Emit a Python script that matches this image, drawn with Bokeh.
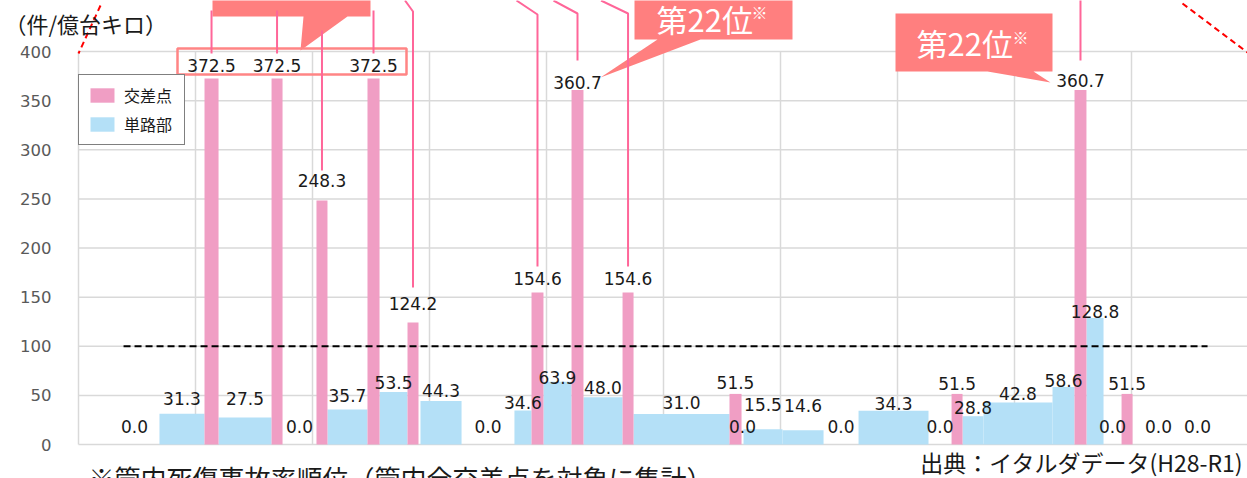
from bokeh.plotting import figure
from bokeh.models import Range1d, FixedTicker, Legend, LegendItem, Label, ColumnDataSource
from bokeh.core.properties import value
from bokeh.embed import file_html
from bokeh.resources import INLINE

# ---------------- data ----------------
# position along the route (1 unit = 1 vertical grid interval)
blue_start = [0.265, 0.692, 1.197, 1.744, 2.128, 2.573, 2.923, 3.274, 3.726, 3.974, 4.316, 4.744,
              5.667, 5.684, 6.017, 6.368, 6.667, 7.265, 7.556, 7.735, 8.325, 8.615, 8.761, 9.009, 9.453]
blue_end = [0.692, 1.077, 1.650, 2.034, 2.470, 2.812, 3.274, 3.726, 3.872, 4.214, 4.650, 5.564,
            5.684, 6.017, 6.368, 6.667, 7.265, 7.462, 7.735, 8.325, 8.513, 8.761, 8.915, 9.453, 9.675]
blue_value = [0.0, 31.3, 27.5, 0.0, 35.7, 53.5, 44.3, 0.0, 34.6, 63.9, 48.0, 31.0,
              0.0, 15.5, 14.6, 0.0, 34.3, 0.0, 28.8, 42.8, 58.6, 128.8, 0.0, 0.0, 0.0]

pink_start = [1.077, 1.650, 2.034, 2.470, 2.812, 3.872, 4.214, 4.650, 5.564, 7.462, 8.513, 8.915]
pink_end = [1.197, 1.744, 2.128, 2.573, 2.906, 3.974, 4.316, 4.744, 5.667, 7.556, 8.615, 9.009]
pink_value = [372.5, 372.5, 248.3, 372.5, 124.2, 154.6, 360.7, 154.6, 51.5, 51.5, 360.7, 51.5]

avg_x = [0.385, 9.650]
avg_y = [100, 100]

y_ticks = [0, 50, 100, 150, 200, 250, 300, 350, 400]
grid_x = [0, 1, 2, 3, 4, 5, 6, 7, 8, 9]

legend_labels = ["交差点", "単路部"]
y_title = "（件/億台キロ）"
rank_text = "第22位"
source_text = "出典：イタルダデータ(H28-R1)"
note_text = "※管内死傷事故率順位（管内全交差点を対象に集計）"

# ---------------- layout / style ----------------
PINK = "#F09EC4"
BLUE = "#B4E0F7"
SALMON = "#FF7F7F"
LEADER = "#FF6699"
GRID = "#D9D9D9"
JP = "Noto Sans CJK JP"
NUM = "DejaVu Sans"
PXY = 0.9825           # screen px per data unit (y)
PXX = 117.0            # screen px per data unit (x)

# label nudges (px above bar top)
blue_dy = [18, 15, 19, 18, 14, 9, 10, 18, 8, 4, 10, 12, 18, 25, 25, 18, 7, 18, 9, 9, 6, 6, 18, 18, 18]
pink_dy = [13, 13, 20, 13, 19, 14, 8, 14, 11, 10, 10, 10]

W, H = 1247, 478
LEFT, BOTTOM = 78, 444


def X(px):
    return (px - LEFT) / PXX


def Y(py):
    return (BOTTOM - py) / PXY


p = figure(width=W, height=H,
           x_range=Range1d(X(0), X(W)), y_range=Range1d(Y(H), Y(0)),
           output_backend="svg", toolbar_location=None,
           min_border_left=0, min_border_right=0, min_border_top=0, min_border_bottom=0)
p.outline_line_color = None
p.background_fill_color = "white"
p.border_fill_color = "white"

p.xaxis.visible = False
p.xgrid.visible = False
p.ygrid.visible = False

p.yaxis.fixed_location = 0
p.yaxis.ticker = FixedTicker(ticks=y_ticks)
p.yaxis.axis_line_color = None
p.yaxis.major_tick_line_color = None
p.yaxis.minor_tick_line_color = None
p.yaxis.major_label_standoff = 21
p.yaxis.major_label_text_font = NUM
p.yaxis.major_label_text_font_size = "16.5px"
p.yaxis.major_label_text_color = "#595959"

# grid lines (plot area only)
p.segment(x0=grid_x, y0=[0] * len(grid_x), x1=grid_x, y1=[400] * len(grid_x),
          line_color=GRID, line_width=1.5)
p.segment(x0=[0] * len(y_ticks), y0=y_ticks, x1=[X(W)] * len(y_ticks), y1=y_ticks,
          line_color=GRID, line_width=1.5)

blue_src = ColumnDataSource(dict(left=blue_start, right=blue_end, top=blue_value))
pink_src = ColumnDataSource(dict(left=pink_start, right=pink_end, top=pink_value))
rb = p.quad(left="left", right="right", bottom=0, top="top", source=blue_src,
            fill_color=BLUE, line_color=None)
rp = p.quad(left="left", right="right", bottom=0, top="top", source=pink_src,
            fill_color=PINK, line_color=None)

p.line(avg_x, avg_y, line_color="black", line_width=2, line_dash="7 4")

# ---------------- callouts ----------------
pc = [(s + e) / 2 for s, e in zip(pink_start, pink_end)]

p.patch([X(212), X(370), X(370), X(347), X(300), X(303), X(212)],
        [Y(-20), Y(-20), Y(16), Y(16), Y(50), Y(16), Y(16)],
        fill_color=SALMON, line_color=None)
p.patch([X(634), X(792), X(792), X(700), X(600), X(657), X(634)],
        [Y(-20), Y(-20), Y(39), Y(39), Y(77), Y(39), Y(39)],
        fill_color=SALMON, line_color=None)
p.patch([X(895), X(1052), X(1052), X(1033), X(1050), X(987), X(895)],
        [Y(13), Y(13), Y(71), Y(71), Y(82), Y(71), Y(71)],
        fill_color=SALMON, line_color=None)

# box around the three 372.5 labels
p.quad(left=[X(177)], right=[X(406)], bottom=[Y(74)], top=[Y(48)],
       fill_color=None, line_color="#FF8585", line_width=2.5)

# leader lines
xs = [[pc[0], pc[0]], [pc[1], pc[1]], [pc[3], pc[3]], [pc[2], pc[2]],
      [pc[4] - 8 / PXX, pc[4], pc[4]],
      [pc[5] - 21 / PXX, pc[5], pc[5]],
      [pc[6] - 24 / PXX, pc[6], pc[6]],
      [pc[7] - 27 / PXX, pc[7], pc[7]],
      [pc[10], pc[10]]]
ys = [[Y(10), Y(53)], [Y(10), Y(53)], [Y(10), Y(53)], [Y(30), Y(170)],
      [Y(0), Y(11), Y(287)],
      [Y(0), Y(14), Y(266)],
      [Y(0), Y(13), Y(60)],
      [Y(0), Y(13), Y(266)],
      [Y(-10), Y(60)]]
p.multi_line(xs, ys, line_color=LEADER, line_width=2)

# red dashed zoom edges
p.multi_line([[X(100), X(78)], [X(1182), X(1247)]], [[Y(5), Y(53)], [Y(3), Y(52)]],
             line_color="#FF0000", line_width=2, line_dash="6 4")

# ---------------- value labels ----------------
bx = [(s + e) / 2 for s, e in zip(blue_start, blue_end)]
by = [v + d / PXY for v, d in zip(blue_value, blue_dy)]
py_ = [v + d / PXY for v, d in zip(pink_value, pink_dy)]
p.text(x=bx, y=by, text=[f"{v:.1f}" for v in blue_value], text_align="center",
       text_baseline="middle", text_font=value(NUM), text_font_size="17px", text_color="#1A1A1A")
p.text(x=pc, y=py_, text=[f"{v:.1f}" for v in pink_value], text_align="center",
       text_baseline="middle", text_font=value(NUM), text_font_size="17px", text_color="#1A1A1A")

# callout texts
for (lx, ly, sx, sy) in [(656, 18, 751, 11), (916, 42, 1012, 36)]:
    p.add_layout(Label(x=X(lx), y=Y(ly), text=rank_text, text_font=JP, text_font_size="31px",
                       text_color="white", text_align="left", text_baseline="middle"))
    p.add_layout(Label(x=X(sx), y=Y(sy), text="※", text_font=JP, text_font_size="16px",
                       text_color="white", text_align="left", text_baseline="middle"))

# axis title, source, note
p.add_layout(Label(x=X(4), y=Y(22), text=y_title, text_font=JP, text_font_size="22px",
                   text_color="#1A1A1A", text_align="left", text_baseline="middle"))
p.add_layout(Label(x=X(1243), y=Y(461), text=source_text, text_font=JP, text_font_size="23px",
                   text_color="#1A1A1A", text_align="right", text_baseline="middle"))
p.add_layout(Label(x=X(88), y=Y(477), text=note_text, text_font=JP, text_font_size="26px",
                   text_color="#1A1A1A", text_align="left", text_baseline="middle"))

# ---------------- legend ----------------
legend = Legend(items=[LegendItem(label=legend_labels[0], renderers=[rp]),
                       LegendItem(label=legend_labels[1], renderers=[rb])],
                location=(LEFT, H - 145), orientation="vertical")
legend.border_line_color = "black"
legend.border_line_width = 1
legend.background_fill_color = "white"
legend.background_fill_alpha = 1.0
legend.padding = 8
legend.spacing = 5
legend.margin = 0
legend.glyph_width = 30
legend.glyph_height = 18
legend.label_height = 18
legend.label_width = 52
legend.label_standoff = 7
legend.label_text_font = JP
legend.label_text_font_size = "16px"
legend.label_text_color = "#1A1A1A"
p.add_layout(legend)

open("out.html", "w").write(file_html(p, INLINE))
